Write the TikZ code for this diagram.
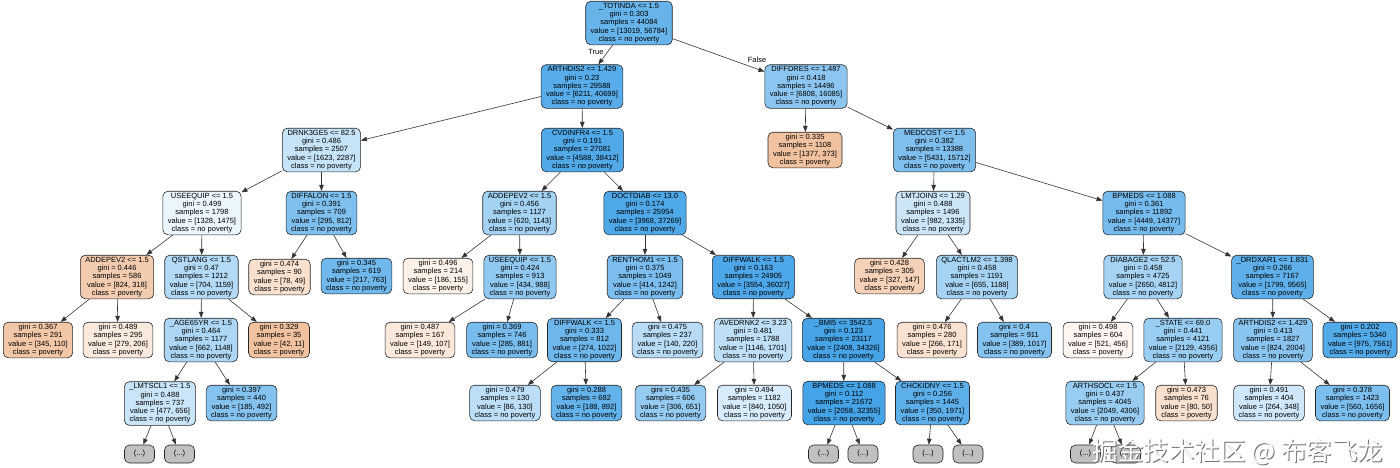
\documentclass[tikz,border=0pt]{standalone}
\usepackage{fontspec}
\setmainfont{Liberation Sans}
\newfontfamily\cjkwm{Noto Sans CJK SC}
\usetikzlibrary{arrows.meta}
\definecolor{bl}{RGB}{57,157,229}
\definecolor{orr}{RGB}{236,172,125}
\definecolor{gr}{RGB}{192,192,192}
\newcommand\mysplit[5]{#1\\gini = #2\\samples = #3\\value = [#4]\\class = #5}
\newcommand\myleaf[4]{gini = #1\\samples = #2\\value = [#3]\\class = #4}
\begin{document}
\begin{tikzpicture}[x=1pt,y=-1pt,
  tn/.style={draw=black!85, line width=0.6pt, rounded corners=5pt, align=center,
    inner xsep=5pt, inner ysep=2pt, font=\fontsize{7.5}{8.2}\selectfont},
  nopov/.style={tn, fill=bl!#1!white},
  pov/.style={tn, fill=orr!#1!white},
  more/.style={tn, fill=gr, minimum width=30pt, minimum height=18pt, inner sep=0pt},
  conn/.style={-{Triangle[length=6pt,width=4.5pt]}, draw=black!80, line width=0.6pt},
  lbl/.style={font=\fontsize{7.5}{8.2}\selectfont, inner sep=1pt}
]
\useasboundingbox (0,0) rectangle (1400,467);
% level 1-2
\node[nopov=77] (r) at (629,23) {\mysplit{\_TOTINDA <= 1.5}{0.303}{44084}{13019, 56784}{no poverty}};
\node[nopov=85] (a1) at (582,86.5) {\mysplit{ARTHDIS2 <= 1.429}{0.23}{29588}{6211, 40699}{no poverty}};
\node[nopov=58] (dd) at (806,86.5) {\mysplit{DIFFDRES <= 1.487}{0.418}{14496}{6808, 16085}{no poverty}};
% level 3
\node[nopov=29] (dr) at (321.5,150) {\mysplit{DRNK3GE5 <= 82.5}{0.486}{2507}{1623, 2287}{no poverty}};
\node[nopov=88] (cv) at (582.5,150) {\mysplit{CVDINFR4 <= 1.5}{0.191}{27081}{4588, 38412}{no poverty}};
\node[pov=73] (l1108) at (805,150) {\myleaf{0.335}{1108}{1377, 373}{poverty}};
\node[nopov=65] (mc) at (934.5,150) {\mysplit{MEDCOST <= 1.5}{0.382}{13388}{5431, 15712}{no poverty}};
% level 4
\node[nopov=10] (ue1) at (202,213) {\mysplit{USEEQUIP <= 1.5}{0.499}{1798}{1328, 1475}{no poverty}};
\node[nopov=64] (dfa) at (321.5,213) {\mysplit{DIFFALON <= 1.5}{0.391}{709}{295, 812}{no poverty}};
\node[nopov=46] (ad2) at (519.5,213) {\mysplit{ADDEPEV2 <= 1.5}{0.456}{1127}{620, 1143}{no poverty}};
\node[nopov=89] (doc) at (645,213) {\mysplit{DOCTDIAB <= 13.0}{0.174}{25954}{3968, 37269}{no poverty}};
\node[nopov=26] (lmt) at (933,213) {\mysplit{LMTJOIN3 <= 1.29}{0.488}{1496}{982, 1335}{no poverty}};
\node[nopov=69] (bp1) at (1144,213) {\mysplit{BPMEDS <= 1.088}{0.361}{11892}{4449, 14377}{no poverty}};
% level 5
\node[pov=61] (ad1) at (117,277) {\mysplit{ADDEPEV2 <= 1.5}{0.446}{586}{824, 318}{poverty}};
\node[nopov=39] (qst) at (201.5,277) {\mysplit{QSTLANG <= 1.5}{0.47}{1212}{704, 1159}{no poverty}};
\node[pov=37] (l474) at (279.5,277) {\myleaf{0.474}{90}{78, 49}{poverty}};
\node[nopov=72] (l345) at (356.5,276) {\myleaf{0.345}{619}{217, 763}{no poverty}};
\node[pov=17] (l496) at (438,276) {\myleaf{0.496}{214}{186, 155}{poverty}};
\node[nopov=56] (ue2) at (520,277) {\mysplit{USEEQUIP <= 1.5}{0.424}{913}{434, 988}{no poverty}};
\node[nopov=67] (ren) at (645,277) {\mysplit{RENTHOM1 <= 1.5}{0.375}{1049}{414, 1242}{no poverty}};
\node[nopov=90] (dw1) at (753.5,277) {\mysplit{DIFFWALK <= 1.5}{0.163}{24905}{3554, 36027}{no poverty}};
\node[pov=55] (l428) at (889.5,276) {\myleaf{0.428}{305}{327, 147}{poverty}};
\node[nopov=45] (qla) at (977,277) {\mysplit{QLACTLM2 <= 1.398}{0.458}{1191}{655, 1188}{no poverty}};
\node[nopov=45] (dia) at (1143,277) {\mysplit{DIABAGE2 <= 52.5}{0.458}{4725}{2650, 4812}{no poverty}};
\node[nopov=81] (drd) at (1272.5,277) {\mysplit{\_DRDXAR1 <= 1.831}{0.266}{7167}{1799, 9565}{no poverty}};
% level 6
\node[pov=68] (l367) at (38,340) {\myleaf{0.367}{291}{345, 110}{poverty}};
\node[pov=26] (l489) at (118,340) {\myleaf{0.489}{295}{279, 206}{poverty}};
\node[nopov=42] (age) at (201,340) {\mysplit{\_AGE65YR <= 1.5}{0.464}{1177}{662, 1148}{no poverty}};
\node[pov=74] (l329) at (279,340) {\myleaf{0.329}{35}{42, 11}{poverty}};
\node[pov=28] (l487) at (420,340) {\myleaf{0.487}{167}{149, 107}{poverty}};
\node[nopov=68] (l369) at (502,340) {\myleaf{0.369}{746}{285, 881}{no poverty}};
\node[nopov=73] (dw2) at (584.5,340) {\mysplit{DIFFWALK <= 1.5}{0.333}{812}{274, 1022}{no poverty}};
\node[nopov=36] (l475) at (667.5,340) {\myleaf{0.475}{237}{140, 220}{no poverty}};
\node[nopov=33] (ave) at (753,340) {\mysplit{AVEDRNK2 <= 3.23}{0.481}{1788}{1146, 1701}{no poverty}};
\node[nopov=93] (bmi) at (843.5,340) {\mysplit{\_BMI5 <= 3542.5}{0.123}{23117}{2408, 34326}{no poverty}};
\node[pov=36] (l476) at (932,340) {\myleaf{0.476}{280}{266, 171}{poverty}};
\node[nopov=62] (l4) at (1014.5,340) {\myleaf{0.4}{911}{389, 1017}{no poverty}};
\node[pov=12] (l498) at (1098,340) {\myleaf{0.498}{604}{521, 456}{poverty}};
\node[nopov=51] (st) at (1183,340) {\mysplit{\_STATE <= 69.0}{0.441}{4121}{2129, 4356}{no poverty}};
\node[nopov=59] (a2) at (1273,340) {\mysplit{ARTHDIS2 <= 1.429}{0.413}{1827}{824, 2004}{no poverty}};
\node[nopov=87] (l202) at (1360,340) {\myleaf{0.202}{5340}{975, 7561}{no poverty}};
% level 7
\node[nopov=27] (lms) at (160,403.5) {\mysplit{\_LMTSCL1 <= 1.5}{0.488}{737}{477, 656}{no poverty}};
\node[nopov=62] (l397) at (241.5,403) {\myleaf{0.397}{440}{185, 492}{no poverty}};
\node[nopov=34] (l479) at (505,403) {\myleaf{0.479}{130}{86, 130}{no poverty}};
\node[nopov=79] (l288) at (586.5,403) {\myleaf{0.288}{682}{188, 892}{no poverty}};
\node[nopov=53] (l435) at (670.5,403) {\myleaf{0.435}{606}{306, 651}{no poverty}};
\node[nopov=20] (l494) at (754.5,403) {\myleaf{0.494}{1182}{840, 1050}{no poverty}};
\node[nopov=94] (bp2) at (844,403) {\mysplit{BPMEDS <= 1.088}{0.112}{21672}{2058, 32355}{no poverty}};
\node[nopov=82] (chk) at (932.5,403) {\mysplit{CHCKIDNY <= 1.5}{0.256}{1445}{350, 1971}{no poverty}};
\node[nopov=52] (aso) at (1105,403) {\mysplit{ARTHSOCL <= 1.5}{0.437}{4045}{2049, 4306}{no poverty}};
\node[pov=37] (l473) at (1186.5,403) {\myleaf{0.473}{76}{80, 50}{poverty}};
\node[nopov=24] (l491) at (1269,403) {\myleaf{0.491}{404}{264, 348}{no poverty}};
\node[nopov=66] (l378) at (1352.5,403) {\myleaf{0.378}{1423}{560, 1656}{no poverty}};
% truncated
\node[more] (m1) at (139.5,454) {(...)};
\node[more] (m2) at (179.5,454) {(...)};
\node[more] (m3) at (823.5,454) {(...)};
\node[more] (m4) at (863,454) {(...)};
\node[more] (m5) at (928,454) {(...)};
\node[more] (m6) at (968,454) {(...)};
\node[more] (m7) at (1085.5,454) {(...)};
\node[more] (m8) at (1125.5,454) {(...)};
% edges
\foreach \p/\c in {r/a1, r/dd, a1/dr, a1/cv, dd/l1108, dd/mc,
  dr/ue1, dr/dfa, cv/ad2, cv/doc, mc/lmt, mc/bp1,
  ue1/ad1, ue1/qst, dfa/l474, dfa/l345, ad2/l496, ad2/ue2, doc/ren, doc/dw1,
  lmt/l428, lmt/qla, bp1/dia, bp1/drd,
  ad1/l367, ad1/l489, qst/age, qst/l329, ue2/l487, ue2/l369, ren/dw2, ren/l475,
  dw1/ave, dw1/bmi, qla/l476, qla/l4, dia/l498, dia/st, drd/a2, drd/l202,
  age/lms, age/l397, lms/m1, lms/m2, dw2/l479, dw2/l288, ave/l435, ave/l494,
  bmi/bp2, bmi/chk, bp2/m3, bp2/m4, chk/m5, chk/m6, st/aso, st/l473,
  aso/m7, aso/m8, a2/l491, a2/l378}
  \draw[conn] (\p) -- (\c);
\node[lbl] (tl) at (596,52) {True};
\node[lbl] (fl) at (757,60) {False};
% watermark
\node[font=\cjkwm\fontsize{25.5}{25.5}\selectfont, text=black!55, inner sep=0pt] (wms) at (1239,452.8) {掘金技术社区 @ 布客飞龙};
\node[font=\cjkwm\fontsize{25.5}{25.5}\selectfont, text=white, inner sep=0pt] (wm) at (1238,452) {掘金技术社区 @ 布客飞龙};
\end{tikzpicture}
\end{document}
